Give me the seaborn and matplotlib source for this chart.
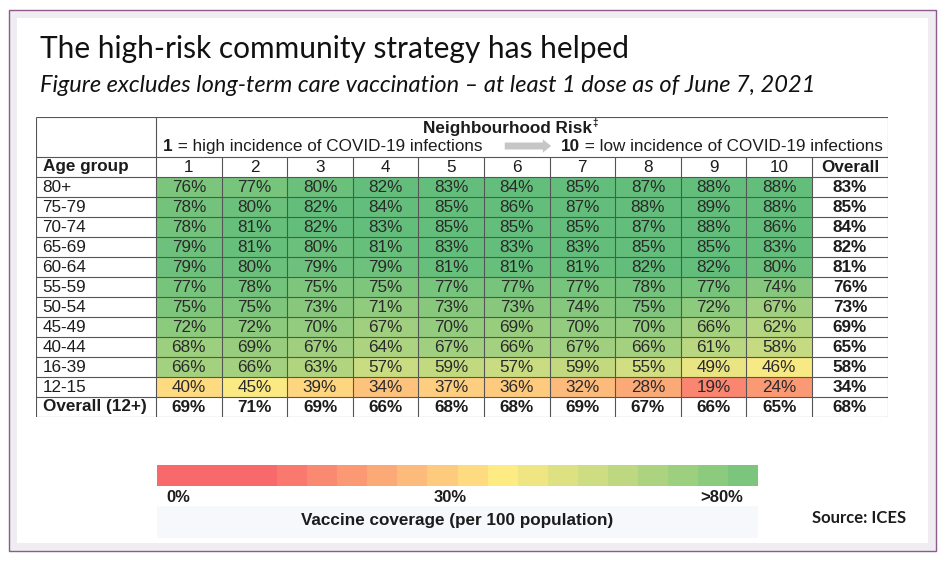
import matplotlib
matplotlib.use('Agg')
import matplotlib.pyplot as plt
from matplotlib.colors import LinearSegmentedColormap
from matplotlib.patches import Rectangle
import numpy as np
import pandas as pd
import seaborn as sns

age_groups = ['80+', '75-79', '70-74', '65-69', '60-64', '55-59',
              '50-54', '45-49', '40-44', '16-39', '12-15']
risk_levels = ['1', '2', '3', '4', '5', '6', '7', '8', '9', '10']
coverage = [
    [76, 77, 80, 82, 83, 84, 85, 87, 88, 88],
    [78, 80, 82, 84, 85, 86, 87, 88, 89, 88],
    [78, 81, 82, 83, 85, 85, 85, 87, 88, 86],
    [79, 81, 80, 81, 83, 83, 83, 85, 85, 83],
    [79, 80, 79, 79, 81, 81, 81, 82, 82, 80],
    [77, 78, 75, 75, 77, 77, 77, 78, 77, 74],
    [75, 75, 73, 71, 73, 73, 74, 75, 72, 67],
    [72, 72, 70, 67, 70, 69, 70, 70, 66, 62],
    [68, 69, 67, 64, 67, 66, 67, 66, 61, 58],
    [66, 66, 63, 57, 59, 57, 59, 55, 49, 46],
    [40, 45, 39, 34, 37, 36, 32, 28, 19, 24],
]
overall_by_age = [83, 85, 84, 82, 81, 76, 73, 69, 65, 58, 34]
overall_by_risk = [69, 71, 69, 66, 68, 68, 69, 67, 66, 65]
overall_total = 68
legend_steps = [0, 4, 8, 12, 16, 20, 24, 28, 32, 36, 40,
                44, 48, 52, 56, 60, 64, 68, 72, 76]
legend_labels = ['0%', '30%', '>80%']

# excel style red-yellow-green scale
VMIN, VMID, VMAX = 12, 44, 82
cmap = LinearSegmentedColormap.from_list(
    'ryg', [(0, '#F8696B'), ((VMID - VMIN) / (VMAX - VMIN), '#FFEB84'), (1, '#63BE7B')])

W, H = 946, 561
TXT = '#1c1c1c'
LINE = '#555555'
plt.rcParams['font.family'] = ['Liberation Sans', 'DejaVu Sans']
narrow = ['Lato', 'DejaVu Sans']

fig = plt.figure(figsize=(W / 100, H / 100), dpi=100)

# background frame in pixel coords
bg = fig.add_axes([0, 0, 1, 1])
bg.set_xlim(0, W)
bg.set_ylim(H, 0)
bg.axis('off')
bg.add_patch(Rectangle((9, 10), 927, 541, fc='#efedf2', ec='#8d5b8b', lw=1.0))
bg.add_patch(Rectangle((17, 18), 911, 525, fc='white', ec='none'))

bg.text(40, 58, 'The high-risk community strategy has helped', family=narrow,
        fontsize=21.5, color='#111111', va='baseline')
bg.text(40, 92, 'Figure excludes long-term care vaccination \u2013 at least 1 dose as of June 7, 2021',
        family=narrow, fontsize=17, style='italic', color='#111111', va='baseline')

# table axes: x in columns, y in rows
AGE_L, OVR_R = -1.83, 11.16
ax = fig.add_axes([36 / W, 1 - 417 / H, 852 / W, 300 / H])
df = pd.DataFrame(coverage, index=age_groups, columns=risk_levels)
annot = df.map(lambda v: f'{v}%')
sns.heatmap(df, ax=ax, cmap=cmap, vmin=VMIN, vmax=VMAX, cbar=False,
            annot=annot, fmt='', linewidths=0,
            annot_kws={'fontsize': 12.3, 'color': '#2a2a2a'})
ax.set_xlim(AGE_L, OVR_R)
ax.set_ylim(12, -3)
ax.axis('off')

# grid lines of the table
ax.hlines([-3] + list(range(-1, 13)), AGE_L, OVR_R, color=LINE, lw=0.8, zorder=3)
ax.vlines([AGE_L, 0, OVR_R], -3, 12, color=LINE, lw=0.8, zorder=3)
ax.vlines(range(1, 11), -1, 12, color=LINE, lw=0.8, zorder=3)

fs = 12.3
ax.text(AGE_L + 0.1, -0.5, 'Age group', fontsize=fs, weight='bold', color=TXT, va='center')
for j, r in enumerate(risk_levels):
    ax.text(j + 0.5, -0.5, r, fontsize=fs, color=TXT, ha='center', va='center')
ax.text((10 + OVR_R) / 2, -0.5, 'Overall', fontsize=fs, weight='bold', color=TXT, ha='center', va='center')
for i, a in enumerate(age_groups):
    ax.text(AGE_L + 0.1, i + 0.5, a, fontsize=fs, color=TXT, va='center')
    ax.text((10 + OVR_R) / 2, i + 0.5, f'{overall_by_age[i]}%', fontsize=fs, weight='bold',
            color=TXT, ha='center', va='center')
ax.text(AGE_L + 0.1, 11.5, 'Overall (12+)', fontsize=fs, weight='bold', color=TXT, va='center')
for j, v in enumerate(overall_by_risk):
    ax.text(j + 0.5, 11.5, f'{v}%', fontsize=fs, weight='bold', color=TXT, ha='center', va='center')
ax.text((10 + OVR_R) / 2, 11.5, f'{overall_total}%', fontsize=fs, weight='bold',
        color=TXT, ha='center', va='center')

# header above the risk columns
px = lambda p: (p - 156) / 65.6
t = ax.text(px(508), -2.4, 'Neighbourhood Risk', fontsize=fs, weight='bold', color=TXT,
            ha='center', va='center')
ax.annotate('\u2021', xy=(1, 0.55), xycoords=t, fontsize=7, weight='bold', color=TXT,
            ha='left', va='bottom')
t1 = ax.text(px(163), -1.15, '1', fontsize=fs, weight='bold', color=TXT, va='bottom')
ax.annotate(' = high incidence of COVID-19 infections', xy=(1, 0), xycoords=t1,
            fontsize=fs, color=TXT, va='bottom')
t2 = ax.text(px(883), -1.15, ' = low incidence of COVID-19 infections', fontsize=fs,
             color=TXT, ha='right', va='bottom')
ax.annotate('10', xy=(0, 0), xycoords=t2, fontsize=fs, weight='bold', color=TXT,
            ha='right', va='bottom')
ax.annotate('', xy=(px(554), -1.55), xytext=(px(502), -1.55),
            arrowprops=dict(arrowstyle='simple,head_length=0.5,head_width=0.8,tail_width=0.42',
                            color='#c6c6c6', lw=0, mutation_scale=12))

# colour legend
lax = fig.add_axes([157 / W, 1 - 486 / H, 601 / W, 21 / H])
sns.heatmap([legend_steps], ax=lax, cmap=cmap, vmin=VMIN, vmax=VMAX, cbar=False,
            xticklabels=False, yticklabels=False)
lax.axis('off')
for lbl, x in zip(legend_labels, [178, 450, 722]):
    bg.text(x, 497, lbl, fontsize=12, weight='bold', color=TXT, ha='center', va='center')
bg.add_patch(Rectangle((157, 506), 601, 32, fc='#f7f8fc', ec='none'))
bg.text(457, 521, 'Vaccine coverage (per 100 population)', fontsize=12.3, weight='bold',
        color=TXT, ha='center', va='center')
bg.text(906, 518, 'Source: ICES', family=narrow, fontsize=12, weight='bold', color=TXT,
        ha='right', va='center')

fig.savefig('out.png', dpi=100)
